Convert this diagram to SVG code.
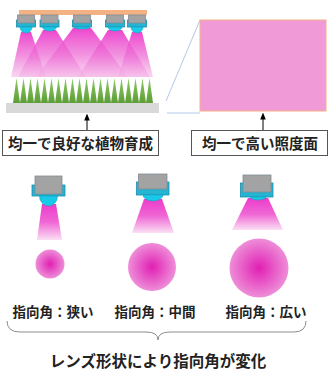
<svg xmlns="http://www.w3.org/2000/svg" width="331" height="371" viewBox="0 0 331 371">
  <defs>
    <linearGradient id="beamTop" x1="0" y1="0" x2="0" y2="1">
      <stop offset="0" stop-color="#ec3ccb" stop-opacity="0.95"/>
      <stop offset="0.55" stop-color="#ee70d6" stop-opacity="0.75"/>
      <stop offset="1" stop-color="#f4b4e6" stop-opacity="0.55"/>
    </linearGradient>
    <linearGradient id="beam" x1="0" y1="0" x2="0" y2="1">
      <stop offset="0" stop-color="#ec3ccb"/>
      <stop offset="0.5" stop-color="#ef66d4"/>
      <stop offset="1" stop-color="#fbe0f4"/>
    </linearGradient>
    <radialGradient id="spot" cx="0.5" cy="0.5" r="0.5">
      <stop offset="0" stop-color="#e020b4"/>
      <stop offset="1" stop-color="#ee8ed8"/>
    </radialGradient>
    <linearGradient id="grass" x1="0" y1="0" x2="0" y2="1">
      <stop offset="0" stop-color="#8cc866"/>
      <stop offset="1" stop-color="#5e9e36"/>
    </linearGradient>
    <marker id="arrow" viewBox="0 0 10 10" refX="5" refY="5" markerWidth="7" markerHeight="7" orient="auto">
      <path d="M0,1 L10,5 L0,9 z" fill="#000"/>
    </marker>
  </defs>
  <style>
    .body { fill: #a3a3a3; stroke: #7f8c94; stroke-width: 0.8; }
    .frame { fill: #25b5d3; stroke: #1a8fae; stroke-width: 0.8; }
    .lens { fill: #19c9e8; stroke: #1a9fc0; stroke-width: 0.6; }
    .box { fill: #fff; stroke: #555; stroke-width: 1; }
    .txt { font-family: "Noto Sans CJK JP", "Noto Sans CJK SC", sans-serif; font-weight: bold; fill: #222; text-anchor: middle; }
    .guide { stroke: #b4c7e7; stroke-width: 1; fill: none; }
    .conn { stroke: #000; stroke-width: 1; fill: none; }
  </style>

  <!-- cultivation rack -->
  <g id="rack">
    <!-- light beams from the top row -->
    <g fill="url(#beamTop)">
      <polygon points="21,32 31,32 46,77 11,77"/>
      <polygon points="43,30 56,30 86,77 18,77"/>
      <polygon points="73,28 91,28 128,77 36,77"/>
      <polygon points="108,30 122,30 150,77 78,77"/>
      <polygon points="132,32 142,32 153,77 118,77"/>
    </g>
    <!-- mounting bar -->
    <rect x="19" y="10" width="128" height="5" fill="#f4b183"/>
    <!-- LED units -->
    <g id="led-top-1">
      <rect class="frame" x="16.5" y="20" width="19" height="7"/>
      <rect class="body" x="17.5" y="15" width="17" height="8"/>
      <path class="lens" d="M20,27 A6,6 0 0 0 32,27 z"/>
    </g>
    <g id="led-top-2">
      <rect class="frame" x="40" y="20" width="19" height="7"/>
      <rect class="body" x="41" y="15" width="17" height="8"/>
      <path class="lens" d="M42.5,27 A7,4 0 0 0 56.5,27 z"/>
    </g>
    <g id="led-top-3">
      <rect class="frame" x="72.5" y="20" width="19" height="7"/>
      <rect class="body" x="73.5" y="15" width="17" height="8"/>
      <path class="lens" d="M74,27 A8,2 0 0 0 90,27 z"/>
    </g>
    <g id="led-top-4">
      <rect class="frame" x="105.5" y="20" width="19" height="7"/>
      <rect class="body" x="106.5" y="15" width="17" height="8"/>
      <path class="lens" d="M108,27 A7,4 0 0 0 122,27 z"/>
    </g>
    <g id="led-top-5">
      <rect class="frame" x="127.5" y="20" width="19" height="7"/>
      <rect class="body" x="128.5" y="15" width="17" height="8"/>
      <path class="lens" d="M131,27 A6,6 0 0 0 143,27 z"/>
    </g>
    <!-- seedlings -->
    <g fill="url(#grass)">
      <polygon points="13,103 16.5,78 20,103"/>
      <polygon points="20,103 23.5,78 27,103"/>
      <polygon points="27,103 30.5,78 34,103"/>
      <polygon points="34,103 37.5,78 41,103"/>
      <polygon points="41,103 44.5,78 48,103"/>
      <polygon points="48,103 51.5,78 55,103"/>
      <polygon points="55,103 58.5,78 62,103"/>
      <polygon points="62,103 65.5,78 69,103"/>
      <polygon points="69,103 72.5,78 76,103"/>
      <polygon points="76,103 79.5,78 83,103"/>
      <polygon points="83,103 86.5,78 90,103"/>
      <polygon points="90,103 93.5,78 97,103"/>
      <polygon points="97,103 100.5,78 104,103"/>
      <polygon points="104,103 107.5,78 111,103"/>
      <polygon points="111,103 114.5,78 118,103"/>
      <polygon points="118,103 121.5,78 125,103"/>
      <polygon points="125,103 128.5,78 132,103"/>
      <polygon points="132,103 135.5,78 139,103"/>
      <polygon points="139,103 142.5,78 146,103"/>
      <polygon points="146,103 149.5,78 153,103"/>
    </g>
    <!-- tray -->
    <rect x="6" y="103" width="153" height="10" fill="#d9d9d9"/>
  </g>

  <!-- irradiated surface -->
  <g id="surface">
    <line class="guide" x1="200" y1="20" x2="166" y2="101"/>
    <line class="guide" x1="167" y1="113" x2="200" y2="113"/>
    <rect x="200" y="20" width="126" height="91" fill="#f09ad8" stroke="#f4b183" stroke-width="1"/>
  </g>

  <!-- captions -->
  <g id="caption-left">
    <rect class="box" x="2.5" y="130.5" width="156" height="25"/>
    <text class="txt" x="80.5" y="149" font-size="14.5">均一で良好な植物育成</text>
  </g>
  <g id="caption-right">
    <rect class="box" x="191.5" y="130.5" width="136" height="25"/>
    <text class="txt" x="260" y="149" font-size="14.5">均一で高い照度面</text>
  </g>

  <!-- connectors -->
  <g id="connectors">
    <line class="conn" x1="87" y1="130" x2="87" y2="117" marker-end="url(#arrow)"/>
    <line class="conn" x1="263" y1="130" x2="263" y2="116" marker-end="url(#arrow)"/>
    <path d="M7,321 Q7,332 20,332 L146,332 Q158,332 158,340 Q158,332 170,332 L294,332 Q306,332 306,321" fill="none" stroke="#8c8c8c" stroke-width="1"/>
  </g>

  <!-- narrow lens -->
  <g id="led-narrow">
    <polygon points="42,204 56,204 62,240 37,240" fill="url(#beam)"/>
    <rect class="frame" x="32" y="185" width="33" height="11"/>
    <rect class="body" x="35" y="176" width="27" height="18"/>
    <path class="lens" d="M39.5,196 A9,10 0 0 0 57.5,196 z"/>
    <circle cx="50" cy="264" r="14.5" fill="url(#spot)"/>
    <text class="txt" x="53" y="317" font-size="13.5">指向角：狭い</text>
  </g>

  <!-- medium lens -->
  <g id="led-medium">
    <polygon points="144,199 162,199 174,233 132,233" fill="url(#beam)"/>
    <rect class="frame" x="136.5" y="182" width="32.5" height="13"/>
    <rect class="body" x="138.5" y="174" width="28.5" height="15"/>
    <path class="lens" d="M143,195 A10,6 0 0 0 163,195 z"/>
    <circle cx="152" cy="267" r="24" fill="url(#spot)"/>
    <text class="txt" x="155" y="317" font-size="13.5">指向角：中間</text>
  </g>

  <!-- wide lens -->
  <g id="led-wide">
    <polygon points="248,198 268,198 283,230 232,230" fill="url(#beam)"/>
    <rect class="frame" x="240.5" y="183" width="32.5" height="14"/>
    <rect class="body" x="243" y="175" width="28" height="17"/>
    <path class="lens" d="M250,197 A8,3 0 0 0 266,197 z"/>
    <circle cx="259" cy="268" r="29.5" fill="url(#spot)"/>
    <text class="txt" x="266" y="317" font-size="13.5">指向角：広い</text>
  </g>

  <text class="txt" x="158" y="367" font-size="15.5">レンズ形状により指向角が変化</text>
</svg>
